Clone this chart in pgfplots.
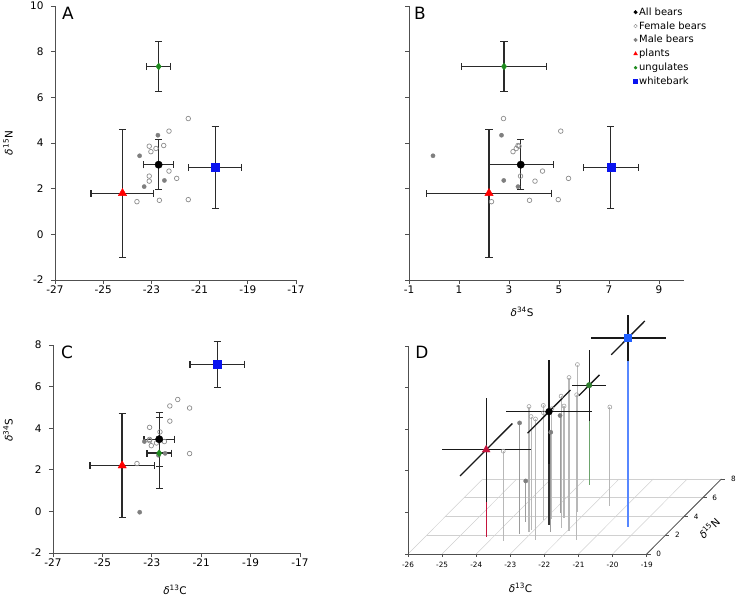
\documentclass[border=0pt]{standalone}
\usepackage{fontspec}
\setmainfont{DejaVu Sans}
\usepackage{pgfplots}
\pgfplotsset{compat=1.18}
\usepackage{pgfplotstable}

\definecolor{axgray}{HTML}{505050}
\definecolor{ebar}{HTML}{2A2A2A}
\definecolor{femgray}{HTML}{8C8C8C}
\definecolor{malegray}{HTML}{7F7F7F}
\definecolor{plantred}{HTML}{FF0000}
\definecolor{unggreen}{HTML}{1E8A1E}
\definecolor{wbblue}{HTML}{0A14F0}
\definecolor{dred}{HTML}{C4143C}
\definecolor{dgreen}{HTML}{2E7D2E}
\definecolor{dblue}{HTML}{1F5FFF}
\definecolor{stemgray}{HTML}{B8B8B8}
\definecolor{gridgray}{HTML}{D0D0D0}

% individual bears: delta13C delta15N delta34S
\pgfplotstableread{
C N S
-21.47 5.07 2.78
-22.27 4.52 5.07
-23.09 3.86 3.40
-23.02 3.62 3.16
-22.81 3.76 3.29
-22.49 3.89 3.36
-22.27 2.77 4.34
-21.95 2.45 5.38
-23.09 2.55 3.46
-23.09 2.33 4.04
-23.60 1.43 2.30
-22.67 1.49 3.82
-21.47 1.52 4.97
}\females
\pgfplotstableread{
C N S
-22.73 4.34 2.70
-23.49 3.44 -0.04
-22.46 2.36 2.79
-23.30 2.09 3.36
}\males
% group means with errors
\pgfplotstableread{
C N S eC eN eS
-22.70 3.05 3.47 0.62 1.10 1.30
}\allbears
% all bears in panel D (wider bars)
\pgfplotstableread{
C N S eC eN eS
-22.70 3.05 3.47 1.25 2.30 2.50
}\allbearsD
\pgfplotstableread{
C N S eC eN eS
-22.70 7.35 2.80 0.50 1.10 1.70
}\ungulates
\pgfplotstableread{
C N S eC eN eS
-24.20 1.80 2.20 1.30 2.80 2.50
}\plants
\pgfplotstableread{
C N S eC eN eS
-20.35 2.93 7.07 1.10 1.80 1.10
}\whitebark

\tikzset{pletter/.style={font=\fontsize{17}{20}\selectfont, anchor=center}}
\pgfplotsset{
  panel/.style={
    scale only axis, axis lines*=left,
    axis line style={axgray, line width=0.8bp},
    tick align=outside, major tick length=4bp,
    tick style={axgray, line width=0.8bp},
    clip=false,
    tick label style={font=\fontsize{10.5}{12}\selectfont},
    xticklabel style={yshift=2bp},
    yticklabel style={xshift=-4bp},
    /pgf/number format/assume math mode=true,
    label style={font=\fontsize{10.5}{12}\selectfont},
  },
  ebars/.style={error bars/x dir=both, error bars/x explicit, error bars/y dir=both, error bars/y explicit,
    error bars/error bar style={ebar, line width=1.4bp},
    error bars/error mark options={rotate=90, ebar, line width=1.3bp, mark size=3.6bp}},
  stem/.style={draw=none, error bars/z dir=minus, error bars/z explicit, error bars/error mark=none,
    error bars/error bar style={draw=#1, line width=1.1bp}},
  eb3/.style={draw=none, error bars/x dir=both, error bars/x explicit, error bars/y dir=both, error bars/y explicit,
    error bars/z dir=both, error bars/z explicit, error bars/error mark=none,
    error bars/error bar style={draw=black!90, line width=1.3bp}},
  fem/.style={only marks, mark=o, mark size=2.3bp, femgray, mark options={line width=0.7bp, fill=white}},
  mal/.style={only marks, mark=*, mark size=2.1bp, malegray},
}

\begin{document}
\begin{tikzpicture}
\useasboundingbox (0,0) rectangle (737bp,596bp);

% ---------------- Panel A ----------------
\begin{axis}[panel, at={(55bp,316bp)}, anchor=south west, width=241bp, height=274bp,
  xmin=-27, xmax=-17, ymin=-2, ymax=10,
  xtick={-27,-25,...,-17}, ytick={-2,0,...,10},
  ylabel={\textit{δ}\textsuperscript{15}N},
  ylabel style={at={(axis description cs:-0.195,0.5)}, anchor=center}]
\addplot[fem] table[x=C,y=N]{\females};
\addplot[mal] table[x=C,y=N]{\males};
\addplot[only marks, mark=*, mark size=3.7bp, black, ebars] table[x=C,y=N,x error=eC,y error=eN]{\allbears};
\addplot[only marks, mark=diamond*, mark size=3.5bp, unggreen, ebars] table[x=C,y=N,x error=eC,y error=eN]{\ungulates};
\addplot[only marks, mark=triangle*, mark size=4.8bp, plantred, ebars] table[x=C,y=N,x error=eC,y error=eN]{\plants};
\addplot[only marks, mark=square*, mark size=4bp, wbblue, ebars] table[x=C,y=N,x error=eC,y error=eN]{\whitebark};
\node[pletter] at (axis description cs:0.054,0.974) {A};
\end{axis}

% ---------------- Panel B ----------------
\begin{axis}[panel, at={(409bp,316bp)}, anchor=south west, width=275bp, height=274bp,
  xmin=-1, xmax=10, ymin=-2, ymax=10,
  xtick={-1,1,...,9}, ytick={-2,0,...,10}, yticklabels={},
  xlabel={\textit{δ}\textsuperscript{34}S},
  xlabel style={at={(axis description cs:0.411,-0.117)}, anchor=center},
  legend style={draw=none, fill=none, at={(axis description cs:0.8155,1.0)}, anchor=north west,
    font=\fontsize{10}{12}\selectfont, row sep=1.8bp, inner sep=0pt,
    nodes={inner sep=1.5bp}},
  legend cell align=left,
  legend image code/.code={\draw[#1] plot coordinates {(0bp,0bp)};}]
\addplot[forget plot, fem] table[x=S,y=N]{\females};
\addplot[forget plot, mal] table[x=S,y=N]{\males};
\addplot[forget plot, only marks, mark=*, mark size=3.7bp, black, ebars] table[x=S,y=N,x error=eS,y error=eN]{\allbears};
\addplot[forget plot, only marks, mark=diamond*, mark size=3.5bp, unggreen, ebars] table[x=S,y=N,x error=eS,y error=eN]{\ungulates};
\addplot[forget plot, only marks, mark=triangle*, mark size=4.8bp, plantred, ebars] table[x=S,y=N,x error=eS,y error=eN]{\plants};
\addplot[forget plot, only marks, mark=square*, mark size=4bp, wbblue, ebars] table[x=S,y=N,x error=eS,y error=eN]{\whitebark};
\addlegendimage{only marks, mark=*, black, mark size=1.8bp}
\addlegendentry{All bears}
\addlegendimage{only marks, mark=o, femgray, mark size=1.8bp}
\addlegendentry{Female bears}
\addlegendimage{only marks, mark=*, malegray, mark size=1.8bp}
\addlegendentry{Male bears}
\addlegendimage{only marks, mark=triangle*, plantred, mark size=2.2bp}
\addlegendentry{plants}
\addlegendimage{only marks, mark=*, unggreen, mark size=1.5bp}
\addlegendentry{ungulates}
\addlegendimage{only marks, mark=square*, wbblue, mark size=2.1bp}
\addlegendentry{whitebark}
\node[pletter] at (axis description cs:0.04,0.974) {B};
\end{axis}

% ---------------- Panel C ----------------
\begin{axis}[panel, at={(53bp,43bp)}, anchor=south west, width=247bp, height=208bp,
  xmin=-27, xmax=-17, ymin=-2, ymax=8,
  xtick={-27,-25,...,-17}, ytick={-2,0,...,8},
  xlabel={\textit{δ}\textsuperscript{13}C},
  xlabel style={at={(axis description cs:0.494,-0.178)}, anchor=center},
  ylabel={\textit{δ}\textsuperscript{34}S},
  ylabel style={at={(axis description cs:-0.182,0.591)}, anchor=center}]
\addplot[fem] table[x=C,y=S]{\females};
\addplot[mal] table[x=C,y=S]{\males};
\addplot[only marks, mark=*, mark size=3.7bp, black, ebars] table[x=C,y=S,x error=eC,y error=eS]{\allbears};
\addplot[only marks, mark=diamond*, mark size=3.5bp, unggreen, ebars] table[x=C,y=S,x error=eC,y error=eS]{\ungulates};
\addplot[only marks, mark=triangle*, mark size=4.8bp, plantred, ebars] table[x=C,y=S,x error=eC,y error=eS]{\plants};
\addplot[only marks, mark=square*, mark size=4bp, wbblue, ebars] table[x=C,y=S,x error=eC,y error=eS]{\whitebark};
\node[pletter] at (axis description cs:0.057,0.966) {C};
\end{axis}

% ---------------- Panel D (3D) ----------------
\begin{axis}[at={(408bp,42bp)}, anchor=south west, hide axis, clip=false,
  x={(34.1bp,0bp)}, y={(9.34bp,9.38bp)}, z={(0bp,20.8bp)},
  xmin=-26, xmax=-19, ymin=0, ymax=8, zmin=-2, zmax=8]
% floor grid
\pgfplotsinvokeforeach{-26,-25,-24,-23,-22,-21,-20,-19}{
  \draw[gridgray, line width=0.5bp] (axis cs:#1,0,-2) -- (axis cs:#1,8,-2);}
\pgfplotsinvokeforeach{2,4,6,8}{
  \draw[gridgray, line width=0.5bp] (axis cs:-26,#1,-2) -- (axis cs:-19,#1,-2);}
% axis lines
\draw[axgray, line width=0.8bp] (axis cs:-26,0,-2) -- (axis cs:-19,0,-2);
\draw[axgray, line width=0.8bp] (axis cs:-19,0,-2) -- (axis cs:-19,8,-2);
\draw[axgray, line width=0.8bp] (axis cs:-26,0,-2) -- (axis cs:-26,0,8);
% ticks and tick labels
\pgfplotsinvokeforeach{-26,-25,-24,-23,-22,-21,-20,-19}{
  \draw[axgray, line width=0.8bp] (axis cs:#1,0,-2) -- ++(0bp,-3.5bp);
  \node[font=\fontsize{7.3}{8}\selectfont, anchor=center] at ([yshift=-11bp]axis cs:#1,0,-2) {#1};}
\pgfplotsinvokeforeach{-2,0,2,4,6,8}{
  \draw[axgray, line width=0.8bp] (axis cs:-26,0,#1) -- ++(-3.5bp,0bp);}
\pgfplotsinvokeforeach{0,2,4,6,8}{
  \draw[axgray, line width=0.8bp] (axis cs:-19,#1,-2) -- ++(4bp,0bp);
  \node[font=\fontsize{7.3}{8}\selectfont, anchor=center] at ([xshift=12bp]axis cs:-19,#1,-2) {#1};}
% stems
\addplot3[stem=stemgray] table[x=C,y=N,z=S,z error expr=\thisrow{S}+2]{\females};
\addplot3[stem=stemgray!85!black] table[x=C,y=N,z=S,z error expr=\thisrow{S}+2]{\males};
\addplot3[stem=black!80] table[x=C,y=N,z=S,z error expr=\thisrow{S}+2]{\allbearsD};
\addplot3[stem=dred] table[x=C,y=N,z=S,z error expr=\thisrow{S}+2]{\plants};
\addplot3[stem=dgreen!70!white] table[x=C,y=N,z=S,z error expr=\thisrow{S}+2]{\ungulates};
\addplot3[stem=dblue!75!white] table[x=C,y=N,z=S,z error expr=\thisrow{S}+2]{\whitebark};
% 3D error bars of the means
\addplot3[eb3] table[x=C,y=N,z=S,x error=eC,y error=eN,z error=eS]{\plants};
\addplot3[eb3] table[x=C,y=N,z=S,x error=eC,y error=eN,z error=eS]{\allbearsD};
\addplot3[eb3] table[x=C,y=N,z=S,x error=eC,y error=eN,z error=eS]{\ungulates};
\addplot3[eb3] table[x=C,y=N,z=S,x error=eC,y error=eN,z error=eS]{\whitebark};
% marks
\addplot3[only marks, mark=o, mark size=2bp, femgray!80, mark options={line width=0.6bp, fill=white}] table[x=C,y=N,z=S]{\females};
\addplot3[only marks, mark=*, mark size=2.1bp, malegray] table[x=C,y=N,z=S]{\males};
\addplot3[only marks, mark=*, mark size=3.4bp, black] table[x=C,y=N,z=S]{\allbearsD};
\addplot3[only marks, mark=triangle*, mark size=4.5bp, dred] table[x=C,y=N,z=S]{\plants};
\addplot3[only marks, mark=*, mark size=2.8bp, dgreen] table[x=C,y=N,z=S]{\ungulates};
\addplot3[only marks, mark=square*, mark size=3.5bp, dblue] table[x=C,y=N,z=S]{\whitebark};
% labels
\node[pletter] at ([xshift=14bp,yshift=-6bp]axis cs:-26,0,8) {D};
\node[font=\fontsize{10.5}{12}\selectfont, anchor=center] at ([yshift=-34bp]axis cs:-22.7,0,-2) {\textit{δ}\textsuperscript{13}C};
\node[font=\fontsize{10.5}{12}\selectfont, anchor=center, rotate=45] at ([xshift=25bp,yshift=-11.5bp]axis cs:-19,4,-2) {\textit{δ}\textsuperscript{15}N};
\end{axis}
\end{tikzpicture}
\end{document}
